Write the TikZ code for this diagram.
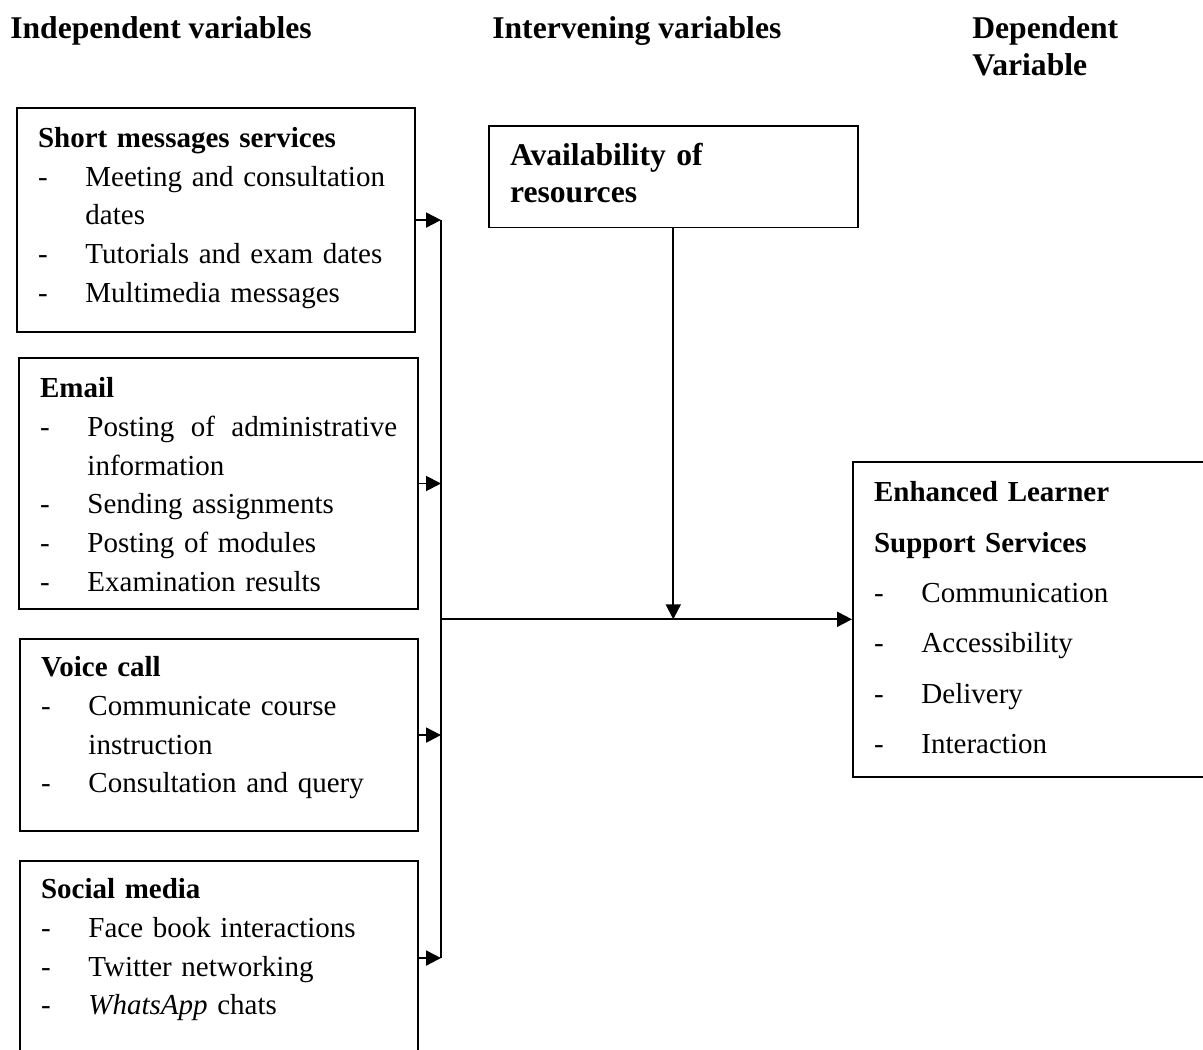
\documentclass[tikz,border=0pt]{standalone}
\usepackage{fontspec}
\setmainfont{Liberation Serif}
\usetikzlibrary{arrows.meta}

\tikzset{
  head/.style={anchor=base west, inner sep=0pt, font=\fontsize{18}{21}\selectfont\bfseries},
  box/.style={draw, line width=1.1pt, anchor=north west, inner xsep=12pt, inner ysep=0pt,
    align=left, font=\fontsize{16.5}{22}\selectfont},
  arr/.style={-{Triangle[length=8.5pt,width=8.5pt]}, line width=1.1pt},
  bus/.style={line width=1.1pt}
}
\newcommand{\boxtitle}[1]{\multicolumn{2}{@{}l@{}}{\textbf{#1}}}

\begin{document}
\begin{tikzpicture}[x=0.02cm, y=-0.02cm]
\useasboundingbox (0,0) rectangle (1203,1050);
% column headings
\node[head] (indep) at (10,39) {Independent variables};
\node[head] (interv) at (492,39) {Intervening variables};
\node[head, text width=4cm, align=left] (dep) at (972,39) {Dependent\\Variable};

% independent variables
\node[box, text width=202.8pt, text height=22.5pt, text depth=105.1pt] (sms) at (16,107) {%
\begin{tabular}[t]{@{}p{27pt}@{}l@{}}
\boxtitle{Short messages services}\\
- & Meeting and consultation\\
  & dates\\
- & Tutorials and exam dates\\
- & Multimedia messages
\end{tabular}};
\node[box, text width=203.3pt, text height=22.7pt, text depth=120.2pt] (email) at (18,357) {%
\begin{tabular}[t]{@{}p{27pt}@{}l@{}}
\boxtitle{Email}\\
- & \makebox[176.3pt][l]{Posting\hfill of\hfill administrative}\\
  & information\\
- & Sending assignments\\
- & Posting of modules\\
- & Examination results
\end{tabular}};
\node[box, text width=202.8pt, text height=21.5pt, text depth=87.9pt] (voice) at (19,638) {%
\begin{tabular}[t]{@{}p{27pt}@{}l@{}}
\boxtitle{Voice call}\\
- & Communicate course\\
  & instruction\\
- & Consultation and query
\end{tabular}};
\node[box, text width=202.8pt, text height=21.5pt, text depth=89pt] (social) at (19,860) {%
\begin{tabular}[t]{@{}p{27pt}@{}l@{}}
\boxtitle{Social media}\\
- & Face book interactions\\
- & Twitter networking\\
- & \textit{WhatsApp} chats
\end{tabular}};

% intervening variable
\node[box, font=\fontsize{18}{21}\selectfont\bfseries, text width=185.8pt,
  text height=22.5pt, text depth=35.3pt] (avail) at (488,125) {Availability of\\resources};

% dependent variable
\node[box, font=\fontsize{16.5}{28.7}\selectfont, text width=179pt,
  text height=22.6pt, text depth=156.5pt] (enh) at (852,461) {%
\begin{tabular}[t]{@{}p{27pt}@{}l@{}}
\boxtitle{Enhanced Learner}\\
\boxtitle{Support Services}\\
- & Communication\\
- & Accessibility\\
- & Delivery\\
- & Interaction
\end{tabular}};

% connectors
\coordinate (bus) at (441,0);
\draw[bus] (sms.east -| bus) -- (social.east -| bus);
\draw[arr] (sms.east) -- (sms.east -| bus);
\draw[arr] (email.east) -- (email.east -| bus);
\draw[arr] (voice.east) -- (voice.east -| bus);
\draw[arr] (social.east) -- (social.east -| bus);
\draw[arr] (enh.west -| bus) -- (enh.west);
\draw[arr] (avail.south) -- (avail.south |- enh.west);
\end{tikzpicture}
\end{document}
